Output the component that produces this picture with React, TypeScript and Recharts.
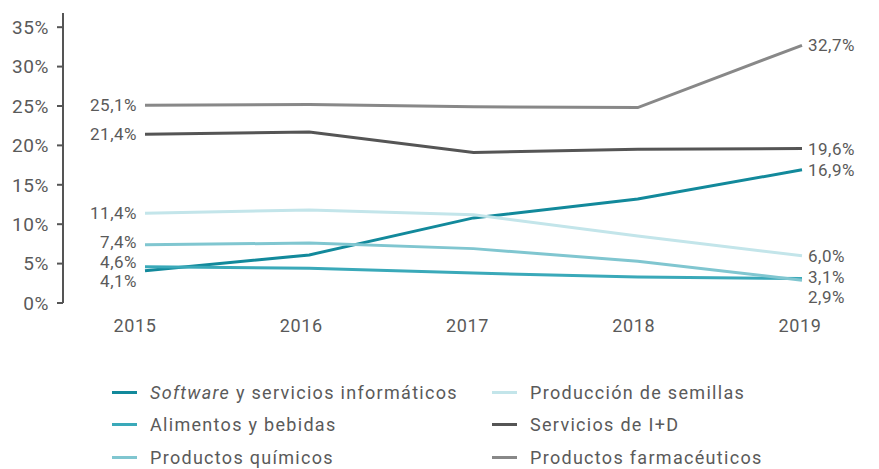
import { LabelList, Line, LineChart, XAxis, YAxis } from "recharts";

const years = ["2015", "2016", "2017", "2018", "2019"];
const software = [4.1, 6.1, 10.8, 13.2, 16.9];
const alimentos = [4.6, 4.4, 3.8, 3.3, 3.1];
const quimicos = [7.4, 7.6, 6.9, 5.3, 2.9];
const semillas = [11.4, 11.8, 11.2, 8.5, 6.0];
const servicios = [21.4, 21.7, 19.1, 19.5, 19.6];
const farma = [25.1, 25.2, 24.9, 24.8, 32.7];
const yTicks = [0, 5, 10, 15, 20, 25, 30, 35];

const series = [
  { key: "software", name: "Software", rest: " y servicios informáticos", values: software, color: "#12899b", firstDy: 10, lastDy: 0 },
  { key: "alimentos", name: "Alimentos y bebidas", rest: "", values: alimentos, color: "#3aa9b9", firstDy: -5, lastDy: -2 },
  { key: "quimicos", name: "Productos químicos", rest: "", values: quimicos, color: "#80c6d0", firstDy: -3, lastDy: 17 },
  { key: "semillas", name: "Producción de semillas", rest: "", values: semillas, color: "#c3e5ea", firstDy: 0, lastDy: 0 },
  { key: "servicios", name: "Servicios de I+D", rest: "", values: servicios, color: "#555555", firstDy: 0, lastDy: 0 },
  { key: "farma", name: "Productos farmacéuticos", rest: "", values: farma, color: "#888888", firstDy: 0, lastDy: 0 },
];

const data = years.map((year, i) => {
  const row: Record<string, string | number> = { year };
  series.forEach((s) => (row[s.key] = s.values[i]));
  return row;
});

const pct = (v: unknown) => `${Number(v).toFixed(1).replace(".", ",")}%`;
const font = "Roboto, sans-serif";
const textColor = "#5a5a5a";

function endLabel(firstDy: number, lastDy: number) {
  return (props: any) => {
    const { x, y, value, index } = props;
    if (index === 0) {
      return (
        <text x={x - 8} y={y + firstDy} dy={6} textAnchor="end" fontSize={17} letterSpacing={0.5} fill={textColor} fontFamily={font}>
          {pct(value)}
        </text>
      );
    }
    if (index === years.length - 1) {
      return (
        <text x={x + 6} y={y + lastDy} dy={6} textAnchor="start" fontSize={17} letterSpacing={0.5} fill={textColor} fontFamily={font}>
          {pct(value)}
        </text>
      );
    }
    return null;
  };
}

function LegendBox() {
  const cols = [series.slice(0, 3), series.slice(3)];
  return (
    <div
      style={{
        position: "absolute",
        left: 112,
        top: 376,
        display: "flex",
        fontFamily: font,
        fontSize: 18,
        letterSpacing: 1.3,
        color: textColor,
      }}
    >
      {cols.map((col, ci) => (
        <div key={ci} style={{ width: ci === 0 ? 380 : 360 }}>
          {col.map((s) => (
            <div key={s.key} style={{ display: "flex", alignItems: "center", height: 32.5 }}>
              <span style={{ display: "inline-block", width: 25, height: 3, background: s.color, marginRight: 13 }} />
              <span>
                {s.rest ? <i>{s.name}</i> : s.name}
                {s.rest}
              </span>
            </div>
          ))}
        </div>
      ))}
    </div>
  );
}

export default function App() {
  return (
    <div style={{ position: "absolute", left: 0, top: 0, width: 879, height: 469, background: "#fff" }}>
      <LineChart width={879} height={469} data={data} margin={{ top: 13, right: 0, left: 0, bottom: 0 }}>
        <XAxis
          dataKey="year"
          padding={{ left: 82, right: 77 }}
          tick={false}
          tickLine={false}
          axisLine={{ stroke: "#555", strokeWidth: 2 }}
          height={0}
        />
        <XAxis
          xAxisId="labels"
          dataKey="year"
          padding={{ left: 72, right: 79 }}
          tickLine={false}
          axisLine={false}
          tick={{ fontSize: 18, fill: textColor, fontFamily: font, letterSpacing: 0.6 }}
          tickMargin={10}
          height={166}
        />
        <YAxis
          domain={[0, 36.8]}
          ticks={yTicks}
          width={63}
          tickFormatter={(v) => `${v}%`}
          axisLine={{ stroke: "#555", strokeWidth: 2 }}
          tickLine={{ stroke: "#555", strokeWidth: 2 }}
          tickSize={6}
          tickMargin={8}
          tick={{ fontSize: 19, fill: textColor, fontFamily: font, letterSpacing: 0.6 }}
          interval={0}
        />
        {series.map((s) => (
          <Line
            key={s.key}
            dataKey={s.key}
            name={s.name}
            type="linear"
            stroke={s.color}
            strokeWidth={3}
            dot={false}
            activeDot={false}
            isAnimationActive={false}
          >
            <LabelList dataKey={s.key} content={endLabel(s.firstDy, s.lastDy)} />
          </Line>
        ))}
      </LineChart>
      <LegendBox />
    </div>
  );
}
